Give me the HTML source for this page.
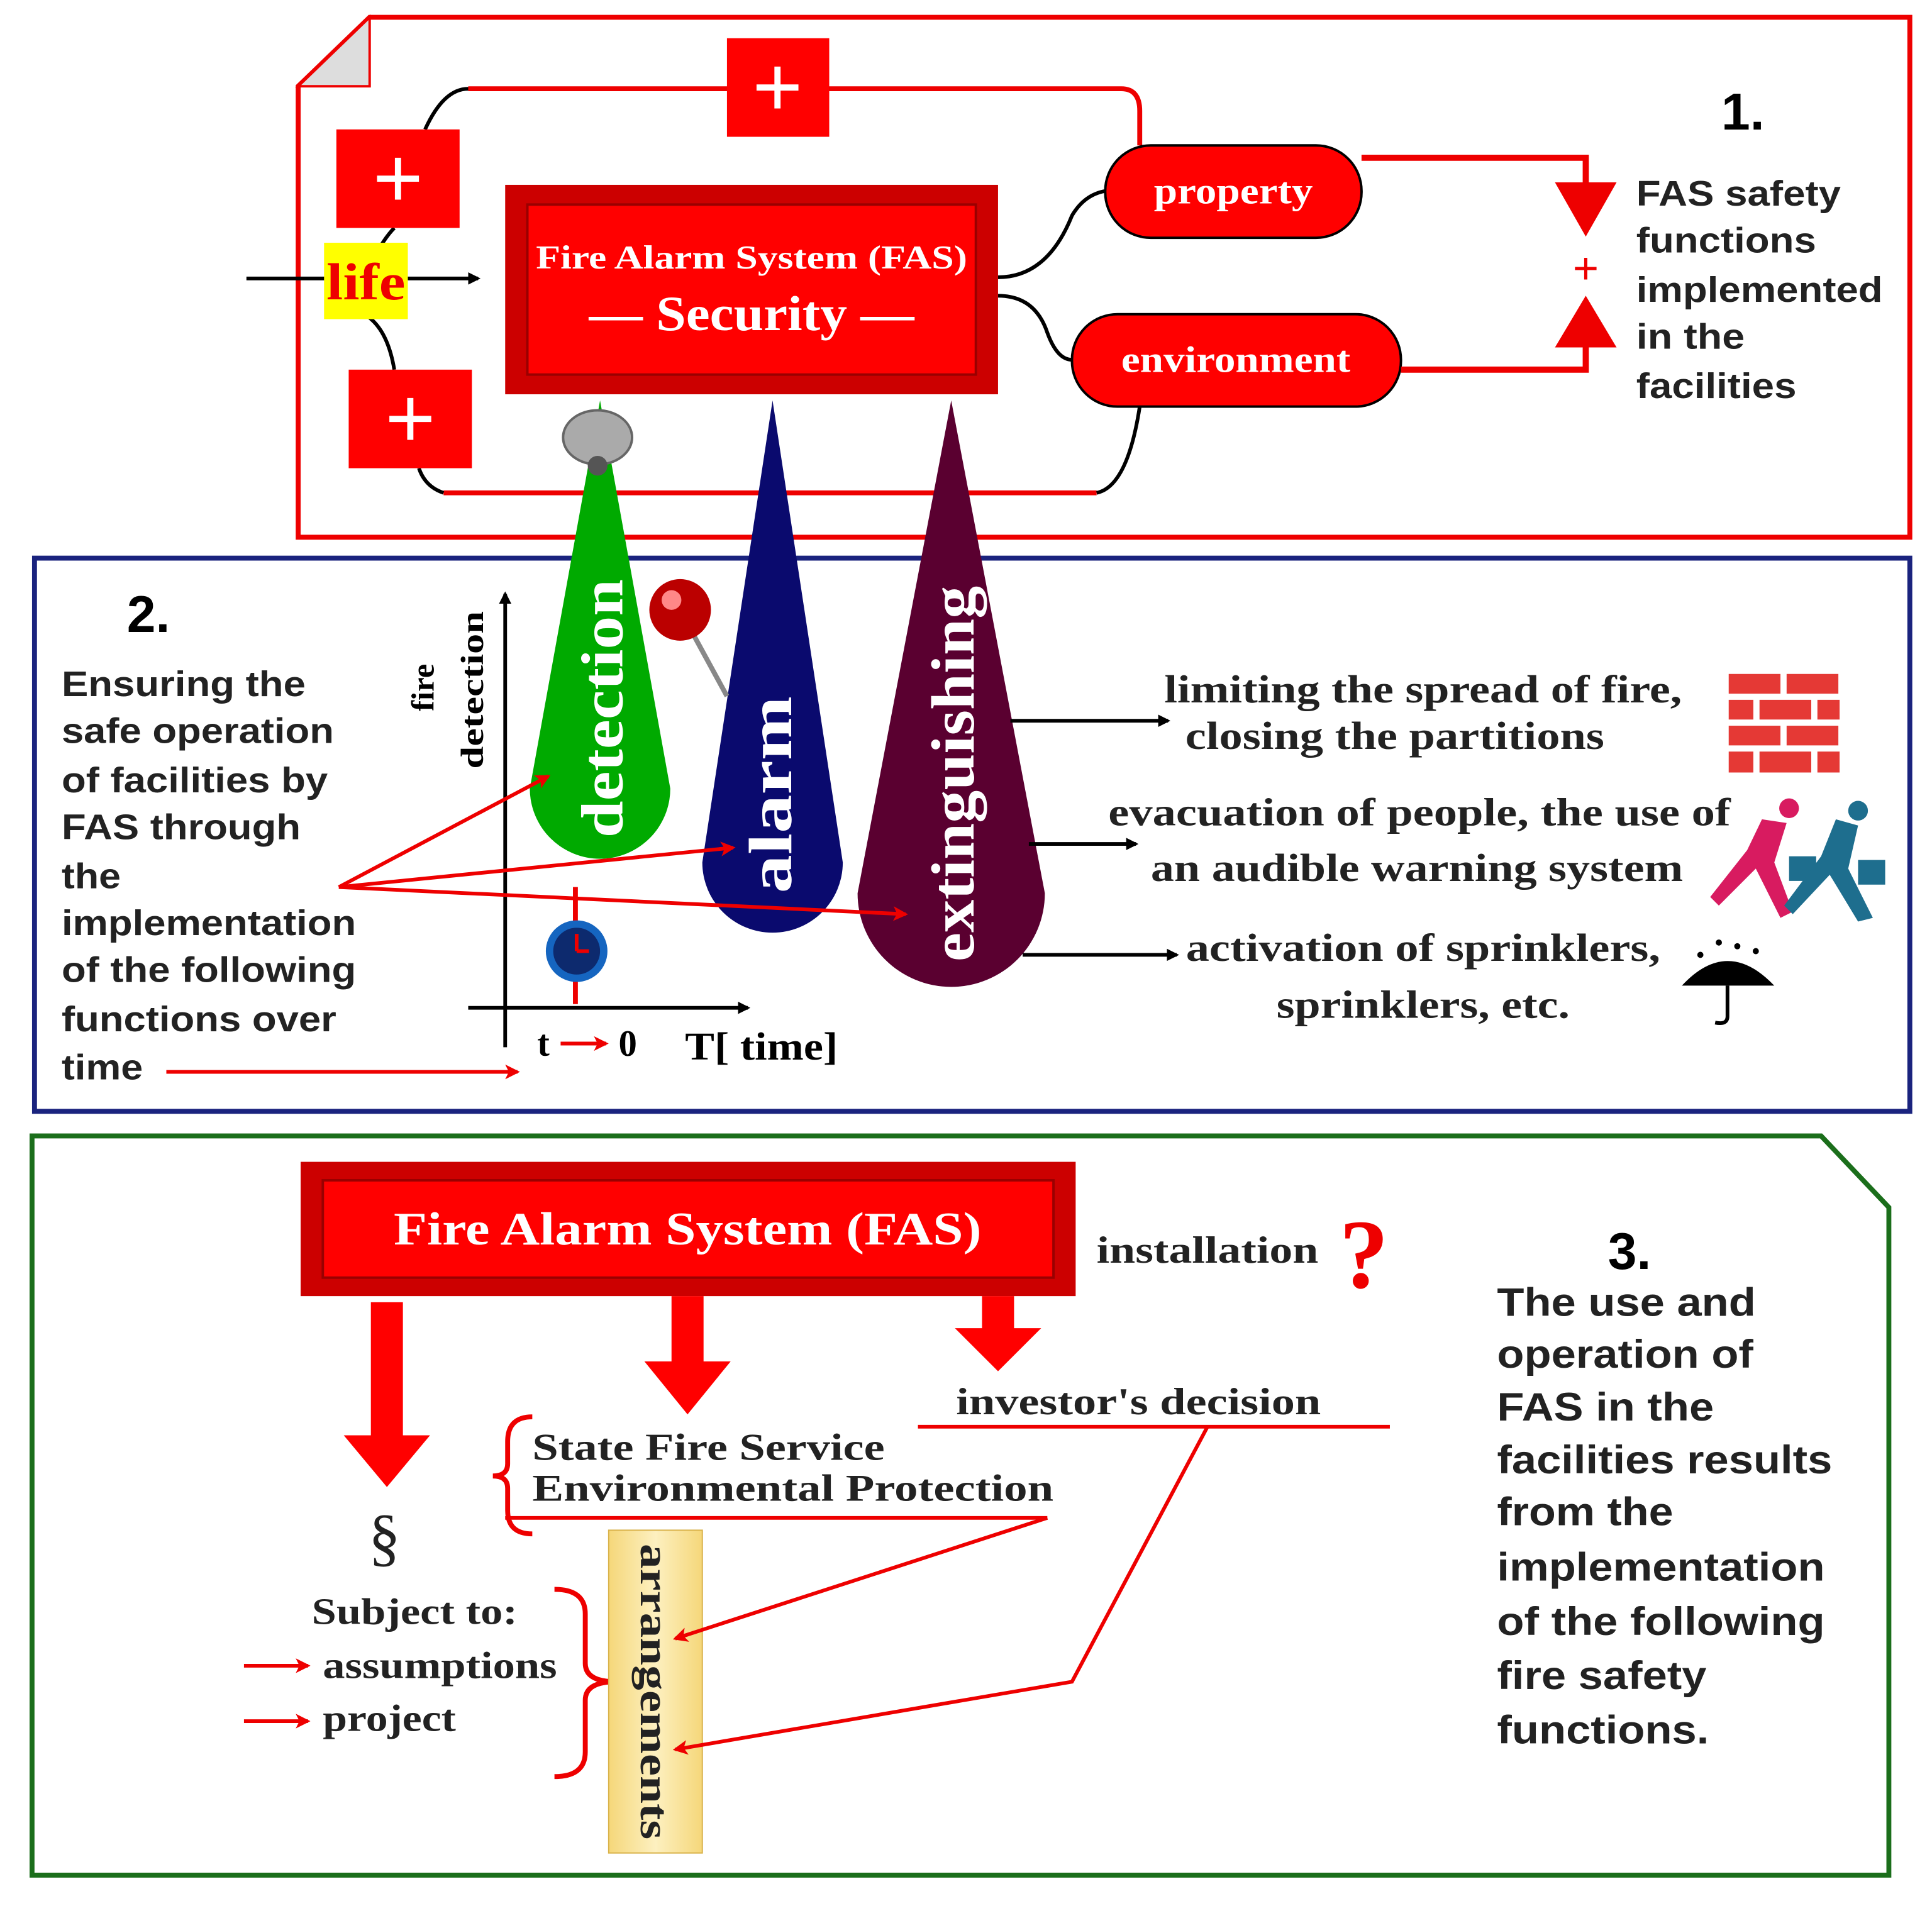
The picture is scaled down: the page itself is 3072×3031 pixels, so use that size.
<!DOCTYPE html>
<html><head><meta charset="utf-8"><style>
html,body{margin:0;padding:0;background:#fff}
svg{display:block}
.sans{font-family:"Liberation Sans",sans-serif}
.serif{font-family:"Liberation Serif",serif}
</style></head><body>
<svg width="3072" height="3031" viewBox="0 0 1568 1547" xmlns="http://www.w3.org/2000/svg">
<defs>
<marker id="ab" markerWidth="10" markerHeight="10" refX="8" refY="5" orient="auto" markerUnits="userSpaceOnUse"><path d="M0,0 L10,5 L0,10 Z" fill="#000"/></marker>
<marker id="ar" markerWidth="12" markerHeight="12" refX="10" refY="6" orient="auto" markerUnits="userSpaceOnUse"><path d="M0,0 L12,6 L0,12 L3,6 Z" fill="#e00"/></marker>
<linearGradient id="yg" x1="0" x2="1"><stop offset="0" stop-color="#f5d77a"/><stop offset="0.5" stop-color="#fdf0c0"/><stop offset="1" stop-color="#f5d77a"/></linearGradient>
</defs>
<rect width="1568" height="1547" fill="#fff"/>
<!-- Section 1 -->
<path d="M300,14 L1550,14 L1550,436 L242,436 L242,70 Z" fill="#fff" stroke="#e00" stroke-width="4"/>
<path d="M300,14 L300,70 L242,70 Z" fill="#ddd" stroke="#e00" stroke-width="2"/>
<path d="M380,72 L910,72 Q925,72 925,90 L925,118" fill="none" stroke="#e00" stroke-width="4"/>
<path d="M380,72 Q360,72 345,105" fill="none" stroke="#000" stroke-width="3"/>
<path d="M360,400 L890,400" fill="none" stroke="#e00" stroke-width="4"/>
<path d="M360,400 Q345,395 340,380" fill="none" stroke="#000" stroke-width="3"/>
<path d="M890,400 Q915,395 925,330" fill="none" stroke="#000" stroke-width="3"/>
<path d="M310,198 Q315,190 320,185" fill="none" stroke="#000" stroke-width="3"/>
<path d="M300,258 Q315,270 320,300" fill="none" stroke="#000" stroke-width="3"/>
<rect x="273" y="105" width="100" height="80" fill="#f00"/>
<rect x="590" y="31" width="83" height="80" fill="#f00"/>
<rect x="283" y="300" width="100" height="80" fill="#f00"/>
<g stroke="#fff" stroke-width="5"><path d="M323,128 V162 M306,145 H340"/><path d="M631,54 V88 M614,71 H648"/><path d="M333,323 V357 M316,340 H350"/></g>
<line x1="200" y1="226" x2="388" y2="226" stroke="#000" stroke-width="3" marker-end="url(#ab)"/>
<rect x="263" y="197" width="68" height="62" fill="#ff0"/>
<text x="297" y="243" text-anchor="middle" class="serif" font-size="42" font-weight="bold" fill="#e00" textLength="64" lengthAdjust="spacingAndGlyphs">life</text>
<path d="M810,225 Q850,225 870,175 Q880,158 897,155" fill="none" stroke="#000" stroke-width="3"/>
<path d="M810,240 Q840,240 850,270 Q858,292 870,292" fill="none" stroke="#000" stroke-width="3"/>
<rect x="410" y="150" width="400" height="170" fill="#c00"/>
<rect x="428" y="166" width="364" height="138" fill="#f00" stroke="#900" stroke-width="2"/>
<text x="610" y="218" text-anchor="middle" class="serif" font-size="27" font-weight="bold" fill="#fff" textLength="350" lengthAdjust="spacingAndGlyphs">Fire Alarm System (FAS)</text>
<text x="610" y="268" text-anchor="middle" class="serif" font-size="40" font-weight="bold" fill="#fff" textLength="264" lengthAdjust="spacingAndGlyphs">— Security —</text>
<rect x="897" y="118" width="208" height="75" rx="37" fill="#f00" stroke="#000" stroke-width="2"/>
<text x="1001" y="165" text-anchor="middle" class="serif" font-size="30" font-weight="bold" fill="#fff" textLength="129" lengthAdjust="spacingAndGlyphs">property</text>
<rect x="870" y="255" width="267" height="75" rx="37" fill="#f00" stroke="#000" stroke-width="2"/>
<text x="1003" y="302" text-anchor="middle" class="serif" font-size="30" font-weight="bold" fill="#fff" textLength="186" lengthAdjust="spacingAndGlyphs">environment</text>
<path d="M1105,128 L1287,128 L1287,150" fill="none" stroke="#e00" stroke-width="5"/>
<path d="M1262,148 L1312,148 L1287,192 Z" fill="#e00"/>
<path d="M1137,300 L1287,300 L1287,280" fill="none" stroke="#e00" stroke-width="5"/>
<path d="M1262,282 L1312,282 L1287,240 Z" fill="#e00"/>
<text x="1287" y="230" text-anchor="middle" class="sans" font-size="36" fill="#e00">+</text>
<text x="1397" y="105" class="sans" font-size="42" font-weight="bold">1.</text>
<g class="sans" font-size="29" font-weight="bold" fill="#222"><text x="1328" y="167" textLength="166" lengthAdjust="spacingAndGlyphs">FAS safety</text><text x="1328" y="205" textLength="146" lengthAdjust="spacingAndGlyphs">functions</text><text x="1328" y="245" textLength="200" lengthAdjust="spacingAndGlyphs">implemented</text><text x="1328" y="283" textLength="88" lengthAdjust="spacingAndGlyphs">in the</text><text x="1328" y="323" textLength="130" lengthAdjust="spacingAndGlyphs">facilities</text></g>
<!-- Section 2 -->
<rect x="28" y="453" width="1522" height="449" fill="none" stroke="#1a237e" stroke-width="4"/>
<path d="M487,325 L430,640 A57,57 0 1 0 544,640 Z" fill="#0a0"/>
<path d="M627,325 L570,700 A57,57 0 1 0 684,700 Z" fill="#0a0a6e"/>
<path d="M772,325 L696,725 A76,76 0 1 0 848,725 Z" fill="#5a0030"/>
<ellipse cx="485" cy="355" rx="28" ry="22" fill="#aaa" stroke="#666" stroke-width="2"/><circle cx="485" cy="378" r="8" fill="#555"/>
<text transform="translate(505,575) rotate(-90)" text-anchor="middle" class="serif" font-size="48" font-weight="bold" fill="#fff" textLength="210" lengthAdjust="spacingAndGlyphs">detection</text>
<text transform="translate(642,645) rotate(-90)" text-anchor="middle" class="serif" font-size="50" font-weight="bold" fill="#fff" textLength="160" lengthAdjust="spacingAndGlyphs">alarm</text>
<text transform="translate(790,628) rotate(-90)" text-anchor="middle" class="serif" font-size="50" font-weight="bold" fill="#fff" textLength="305" lengthAdjust="spacingAndGlyphs">extinguishing</text>
<line x1="560" y1="510" x2="590" y2="565" stroke="#888" stroke-width="4"/>
<circle cx="552" cy="495" r="25" fill="#b00"/><circle cx="545" cy="487" r="8" fill="#f88"/>
<line x1="410" y1="850" x2="410" y2="482" stroke="#000" stroke-width="3" marker-end="url(#ab)"/>
<line x1="380" y1="818" x2="607" y2="818" stroke="#000" stroke-width="3" marker-end="url(#ab)"/>
<text transform="translate(352,558) rotate(-90)" text-anchor="middle" class="serif" font-size="26" font-weight="bold">fire</text>
<text transform="translate(392,560) rotate(-90)" text-anchor="middle" class="serif" font-size="26" font-weight="bold" textLength="128" lengthAdjust="spacingAndGlyphs">detection</text>
<line x1="467" y1="720" x2="467" y2="815" stroke="#e00" stroke-width="4"/>
<circle cx="468" cy="772" r="25" fill="#1565c0"/><circle cx="468" cy="772" r="19" fill="#0d2a6e"/>
<path d="M468,772 V758 M468,772 H478" stroke="#e00" stroke-width="3"/>
<g stroke="#e00" stroke-width="3" marker-end="url(#ar)" fill="none"><line x1="275" y1="720" x2="445" y2="630"/><line x1="275" y1="720" x2="595" y2="688"/><line x1="275" y1="720" x2="735" y2="742"/><line x1="135" y1="870" x2="420" y2="870"/><line x1="455" y1="847" x2="492" y2="847"/></g>
<text x="103" y="513" class="sans" font-size="42" font-weight="bold">2.</text>
<g class="sans" font-size="29" font-weight="bold" fill="#222"><text x="50" y="565" textLength="198" lengthAdjust="spacingAndGlyphs">Ensuring the</text><text x="50" y="603" textLength="221" lengthAdjust="spacingAndGlyphs">safe operation</text><text x="50" y="643" textLength="216" lengthAdjust="spacingAndGlyphs">of facilities by</text><text x="50" y="681" textLength="194" lengthAdjust="spacingAndGlyphs">FAS through</text><text x="50" y="721" textLength="48" lengthAdjust="spacingAndGlyphs">the</text><text x="50" y="759" textLength="239" lengthAdjust="spacingAndGlyphs">implementation</text><text x="50" y="797" textLength="239" lengthAdjust="spacingAndGlyphs">of the following</text><text x="50" y="837" textLength="223" lengthAdjust="spacingAndGlyphs">functions over</text><text x="50" y="876" textLength="66" lengthAdjust="spacingAndGlyphs">time</text></g>
<text x="436" y="857" class="serif" font-size="30" font-weight="bold">t</text>
<text x="502" y="857" class="serif" font-size="30" font-weight="bold">0</text>
<text x="556" y="860" class="serif" font-size="32" font-weight="bold" textLength="124" lengthAdjust="spacingAndGlyphs">T[ time]</text>
<g stroke="#000" stroke-width="3" marker-end="url(#ab)"><line x1="820" y1="585" x2="948" y2="585"/><line x1="835" y1="685" x2="922" y2="685"/><line x1="830" y1="775" x2="955" y2="775"/></g>
<g class="serif" font-size="32" font-weight="bold" fill="#222" text-anchor="middle"><text x="1155" y="570" textLength="420" lengthAdjust="spacingAndGlyphs">limiting the spread of fire,</text><text x="1132" y="608" textLength="340" lengthAdjust="spacingAndGlyphs">closing the partitions</text><text x="1152" y="670" textLength="505" lengthAdjust="spacingAndGlyphs">evacuation of people, the use of</text><text x="1150" y="715" textLength="432" lengthAdjust="spacingAndGlyphs">an audible warning system</text><text x="1155" y="780" textLength="385" lengthAdjust="spacingAndGlyphs">activation of sprinklers,</text><text x="1155" y="826" textLength="238" lengthAdjust="spacingAndGlyphs">sprinklers, etc.</text></g>
<g fill="#e53935"><rect x="1403" y="547" width="42" height="16"/><rect x="1450" y="547" width="42" height="16"/><rect x="1403" y="568" width="20" height="16"/><rect x="1428" y="568" width="42" height="16"/><rect x="1475" y="568" width="18" height="16"/><rect x="1403" y="589" width="42" height="16"/><rect x="1450" y="589" width="42" height="16"/><rect x="1403" y="610" width="20" height="17"/><rect x="1428" y="610" width="42" height="17"/><rect x="1475" y="610" width="18" height="17"/></g>
<circle cx="1452" cy="656" r="8" fill="#d81b60"/>
<path d="M1430,665 L1450,668 L1440,700 L1455,740 L1445,745 L1425,705 L1395,735 L1388,728 L1418,690 Z" fill="#d81b60"/>
<rect x="1452" y="695" width="22" height="20" fill="#1e6e8e"/>
<circle cx="1508" cy="658" r="8" fill="#1e6e8e"/>
<path d="M1490,665 L1508,670 L1500,705 L1520,745 L1508,748 L1485,710 L1455,742 L1448,735 L1478,695 Z" fill="#1e6e8e"/>
<rect x="1508" y="698" width="22" height="20" fill="#1e6e8e"/>
<path d="M1365,800 Q1402,760 1440,800 Z" fill="#000"/><path d="M1402,800 V825 Q1402,832 1392,830" fill="none" stroke="#000" stroke-width="3"/>
<g fill="#000"><circle cx="1380" cy="775" r="2.5"/><circle cx="1395" cy="765" r="2.5"/><circle cx="1410" cy="768" r="2.5"/><circle cx="1425" cy="772" r="2.5"/></g>
<!-- Section 3 -->
<path d="M26,922 L1478,922 L1533,980 L1533,1522 L26,1522 Z" fill="none" stroke="#1b6e1b" stroke-width="4"/>
<rect x="244" y="943" width="629" height="109" fill="#c00"/>
<rect x="262" y="958" width="593" height="79" fill="#f00" stroke="#900" stroke-width="2"/>
<text x="558" y="1010" text-anchor="middle" class="serif" font-size="38" font-weight="bold" fill="#fff" textLength="477" lengthAdjust="spacingAndGlyphs">Fire Alarm System (FAS)</text>
<text x="890" y="1025" class="serif" font-size="31" font-weight="bold" fill="#222" textLength="180" lengthAdjust="spacingAndGlyphs">installation</text>
<text x="1107" y="1045" text-anchor="middle" class="serif" font-size="80" font-weight="bold" fill="#e00">?</text>
<path d="M301,1057 H327 V1165 H349 L314,1207 L279,1165 H301 Z" fill="#f00"/>
<path d="M545,1052 H571 V1105 H593 L558,1148 L523,1105 H545 Z" fill="#f00"/>
<path d="M797,1052 H823 V1078 H845 L810,1113 L775,1078 H797 Z" fill="#f00"/>
<text x="776" y="1148" class="serif" font-size="31" font-weight="bold" fill="#222" textLength="296" lengthAdjust="spacingAndGlyphs">investor's decision</text>
<line x1="745" y1="1158" x2="1128" y2="1158" stroke="#e00" stroke-width="3"/>
<path d="M432,1150 Q412,1150 412,1170 L412,1188 Q412,1198 400,1198 Q412,1198 412,1208 L412,1226 Q412,1245 432,1245" fill="none" stroke="#e00" stroke-width="4"/>
<text x="432" y="1185" class="serif" font-size="31" font-weight="bold" fill="#222" textLength="286" lengthAdjust="spacingAndGlyphs">State Fire Service</text>
<text x="432" y="1218" class="serif" font-size="31" font-weight="bold" fill="#222" textLength="423" lengthAdjust="spacingAndGlyphs">Environmental Protection</text>
<line x1="410" y1="1232" x2="850" y2="1232" stroke="#e00" stroke-width="3"/>
<text x="312" y="1265" text-anchor="middle" class="serif" font-size="52" fill="#222">§</text>
<text x="253" y="1318" class="serif" font-size="30" font-weight="bold" fill="#222" textLength="167" lengthAdjust="spacingAndGlyphs">Subject to:</text>
<g stroke="#e00" stroke-width="3" marker-end="url(#ar)"><line x1="198" y1="1352" x2="250" y2="1352"/><line x1="198" y1="1397" x2="250" y2="1397"/></g>
<text x="262" y="1362" class="serif" font-size="31" font-weight="bold" fill="#222" textLength="190" lengthAdjust="spacingAndGlyphs">assumptions</text>
<text x="262" y="1405" class="serif" font-size="31" font-weight="bold" fill="#222" textLength="108" lengthAdjust="spacingAndGlyphs">project</text>
<path d="M450,1290 Q475,1290 475,1310 L475,1350 Q475,1365 500,1365 Q475,1365 475,1380 L475,1422 Q475,1442 450,1442" fill="none" stroke="#e00" stroke-width="4"/>
<rect x="494" y="1242" width="76" height="262" fill="url(#yg)" stroke="#d9b24a" stroke-width="1"/>
<text transform="translate(520,1373) rotate(90)" text-anchor="middle" class="serif" font-size="33" font-weight="bold" fill="#222" textLength="240" lengthAdjust="spacingAndGlyphs">arrangements</text>
<g stroke="#e00" stroke-width="3" fill="none" marker-end="url(#ar)"><path d="M850,1232 L548,1330"/><path d="M980,1158 L870,1365 L548,1420"/></g>
<text x="1305" y="1030" class="sans" font-size="42" font-weight="bold">3.</text>
<g class="sans" font-size="32" font-weight="bold" fill="#222"><text x="1215" y="1068" textLength="210" lengthAdjust="spacingAndGlyphs">The use and</text><text x="1215" y="1110" textLength="208" lengthAdjust="spacingAndGlyphs">operation of</text><text x="1215" y="1153" textLength="176" lengthAdjust="spacingAndGlyphs">FAS in the</text><text x="1215" y="1196" textLength="272" lengthAdjust="spacingAndGlyphs">facilities results</text><text x="1215" y="1238" textLength="143" lengthAdjust="spacingAndGlyphs">from the</text><text x="1215" y="1283" textLength="266" lengthAdjust="spacingAndGlyphs">implementation</text><text x="1215" y="1327" textLength="266" lengthAdjust="spacingAndGlyphs">of the following</text><text x="1215" y="1371" textLength="170" lengthAdjust="spacingAndGlyphs">fire safety</text><text x="1215" y="1415" textLength="172" lengthAdjust="spacingAndGlyphs">functions.</text></g>
</svg>
</body></html>
